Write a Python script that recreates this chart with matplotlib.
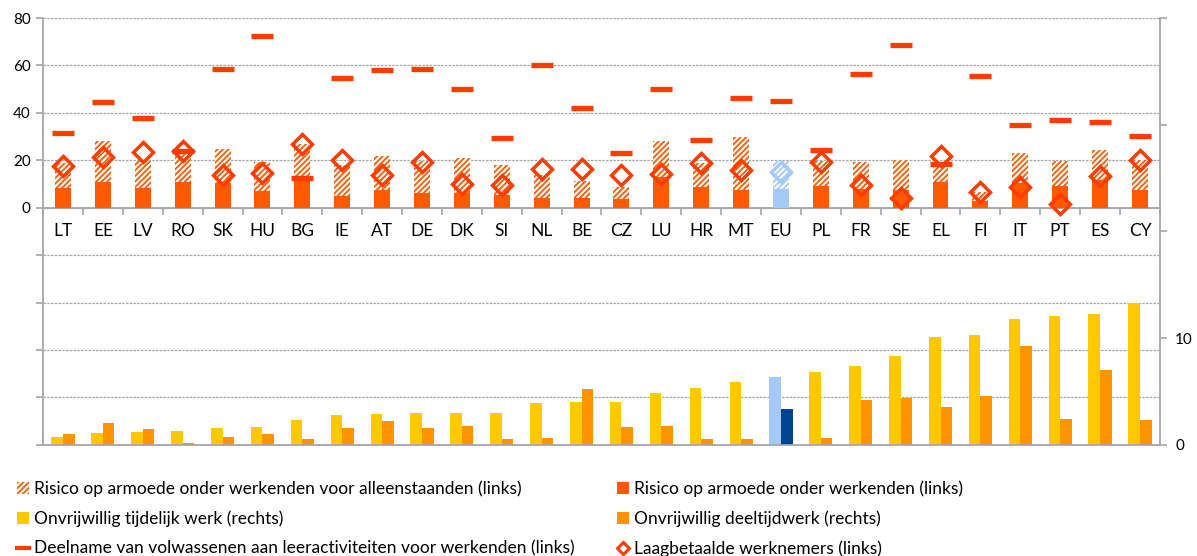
import numpy as np
import matplotlib
matplotlib.use("Agg")
import matplotlib.pyplot as plt
from matplotlib.patches import Patch
from matplotlib.lines import Line2D

plt.rcParams['font.family'] = ['Lato', 'DejaVu Sans']
plt.rcParams['hatch.linewidth'] = 1.3

# countries, sorted by involuntary temporary work
countries = ['LT', 'EE', 'LV', 'RO', 'SK', 'HU', 'BG', 'IE', 'AT', 'DE', 'DK', 'SI', 'NL', 'BE',
             'CZ', 'LU', 'HR', 'MT', 'EU', 'PL', 'FR', 'SE', 'EL', 'FI', 'IT', 'PT', 'ES', 'CY']

# left axis (%)
poverty_single = [18.8, 28.3, 19.5, 22.5, 24.7, 19.1, 26.9, 18.1, 21.9, 19.5, 20.9, 18.1, 14.0, 11.1,
                  8.7, 28.2, 19.0, 30.0, 19.9, 19.5, 19.1, 20.1, 18.0, 6.6, 23.0, 19.5, 24.3, 20.1]
poverty_workers = [8.3, 10.7, 8.3, 10.7, 10.5, 6.9, 12.0, 5.1, 7.3, 6.4, 6.2, 5.5, 4.3, 4.1,
                   3.7, 13.0, 8.6, 7.6, 8.0, 9.3, 7.9, 7.5, 10.7, 2.8, 10.4, 9.0, 11.8, 7.3]
adult_learning = [31.4, 44.5, 37.8, 24.0, 58.4, 72.3, 12.5, 54.6, 58.0, 58.4, 50.0, 29.3, 60.2, 42.0,
                  23.0, 50.0, 28.6, 46.2, 44.9, 24.3, 56.3, 68.5, 18.4, 55.4, 34.8, 36.9, 36.1, 30.2]
low_paid = [17.8, 21.2, 23.3, 24.0, 13.6, 14.6, 27.0, 20.2, 13.9, 19.2, 10.1, 9.4, 16.4, 16.3,
            13.9, 14.2, 18.8, 16.0, 14.9, 19.1, 9.7, 4.1, 21.9, 6.5, 8.7, 1.7, 13.2, 20.1]

# right axis (%)
temp_work = [0.7, 1.1, 1.2, 1.3, 1.6, 1.7, 2.3, 2.75, 2.85, 3.0, 3.0, 3.0, 3.9, 4.0,
             4.0, 4.9, 5.3, 5.9, 6.4, 6.8, 7.4, 8.3, 10.15, 10.25, 11.75, 12.1, 12.3, 13.3]
part_time = [1.0, 2.0, 1.5, 0.2, 0.7, 1.0, 0.5, 1.6, 2.2, 1.6, 1.8, 0.5, 0.6, 5.2,
             1.7, 1.8, 0.5, 0.5, 3.4, 0.6, 4.2, 4.4, 3.5, 4.6, 9.3, 2.4, 7.0, 2.3]

labels = ['Risico op armoede onder werkenden voor alleenstaanden (links)',
          'Risico op armoede onder werkenden (links)',
          'Onvrijwillig tijdelijk werk (rechts)',
          'Onvrijwillig deeltijdwerk (rechts)',
          'Deelname van volwassenen aan leeractiviteiten voor werkenden (links)',
          'Laagbetaalde werknemers (links)']

ORANGE = '#FF5A00'
RED = '#FF3C00'
YELLOW = '#FFC800'
DARKORANGE = '#FF9400'
LIGHTBLUE = '#A6CAF8'
DARKBLUE = '#00438F'
GRAY = '#A6A6A6'

x = np.arange(len(countries))

solid_cols = [LIGHTBLUE if c == 'EU' else ORANGE for c in countries]
yellow_cols = [LIGHTBLUE if c == 'EU' else YELLOW for c in countries]
part_cols = [DARKBLUE if c == 'EU' else DARKORANGE for c in countries]
diam_cols = [LIGHTBLUE if c == 'EU' else RED for c in countries]

fig = plt.figure(figsize=(11.97, 5.56), dpi=100)
ax = fig.add_axes([0.036, 0.2, 0.933, 0.7675])
ax2 = ax.twinx()

# top panel on the left axis
for i in x:
    ax.bar(i, poverty_single[i], width=0.4, facecolor='white', edgecolor=solid_cols[i],
           linewidth=0, hatch='//////', zorder=2)
ax.bar(x, poverty_workers, width=0.4, color=solid_cols, zorder=3)
ax.plot(x, adult_learning, linestyle='none', marker='_', ms=16, mew=3.8, color=RED, zorder=4)
for i in x:
    ax.plot(i, low_paid[i], linestyle='none', marker='D', ms=10.5, mew=2.5,
            mfc='none', mec=diam_cols[i], zorder=5)

ax.set_ylim(-100, 80)
ax.set_xlim(-0.5, len(countries) - 0.5)
ax.set_yticks(np.arange(-100, 81, 20))
ax.set_yticklabels([str(v) if v >= 0 else '' for v in range(-100, 81, 20)], fontsize=11)
ax.yaxis.grid(True, color=GRAY, linestyle=(0, (2, 1)), linewidth=0.9)
ax.set_axisbelow(True)

ax.spines['bottom'].set_position(('data', 0))
ax.spines['top'].set_visible(False)
ax.spines['right'].set_visible(False)
for s in ['left', 'bottom']:
    ax.spines[s].set_color(GRAY)
    ax.spines[s].set_linewidth(1.3)
ax.set_xticks(x)
ax.set_xticklabels(countries, fontsize=12.5)
ax.set_xticks(np.arange(-0.5, len(countries), 1), minor=True)
ax.tick_params(axis='x', which='major', length=0, pad=11)
ax.tick_params(axis='x', which='minor', length=5, color=GRAY, width=1.2)
ax.tick_params(axis='y', length=5, color=GRAY, width=1.2, pad=4)

# bottom panel on the right axis
ax2.bar(x - 0.145, temp_work, width=0.29, color=yellow_cols, zorder=2)
ax2.bar(x + 0.145, part_time, width=0.29, color=part_cols, zorder=2)
ax2.set_ylim(0, 40)
ax2.set_yticks([0, 10, 20, 30, 40])
ax2.set_yticklabels(['0', '10', '', '', ''], fontsize=11)
ax2.tick_params(axis='y', length=5, color=GRAY, width=1.2, pad=6)
ax2.spines['top'].set_visible(False)
ax2.spines['left'].set_visible(False)
for s in ['right', 'bottom']:
    ax2.spines[s].set_color(GRAY)
    ax2.spines[s].set_linewidth(1.3)

handles = [Patch(facecolor='white', edgecolor=ORANGE, linewidth=0, hatch='//////'),
           Patch(facecolor=ORANGE),
           Patch(facecolor=YELLOW),
           Patch(facecolor=DARKORANGE),
           Line2D([], [], color=RED, lw=3),
           Line2D([], [], linestyle='none', marker='D', ms=6.5, mew=2.2, mfc='white', mec=RED)]

leg_kw = dict(frameon=False, fontsize=12.5, handlelength=0.7, handleheight=0.7,
              handletextpad=0.3, labelspacing=0.78, borderaxespad=0, borderpad=0)
leg1 = fig.legend(handles[0::2], labels[0::2], loc='upper left',
                  bbox_to_anchor=(0.0142, 0.136), **leg_kw)
leg2 = fig.legend(handles[1::2], labels[1::2], loc='upper left',
                  bbox_to_anchor=(0.5155, 0.136), **leg_kw)

fig.savefig('out.png', dpi=100)
